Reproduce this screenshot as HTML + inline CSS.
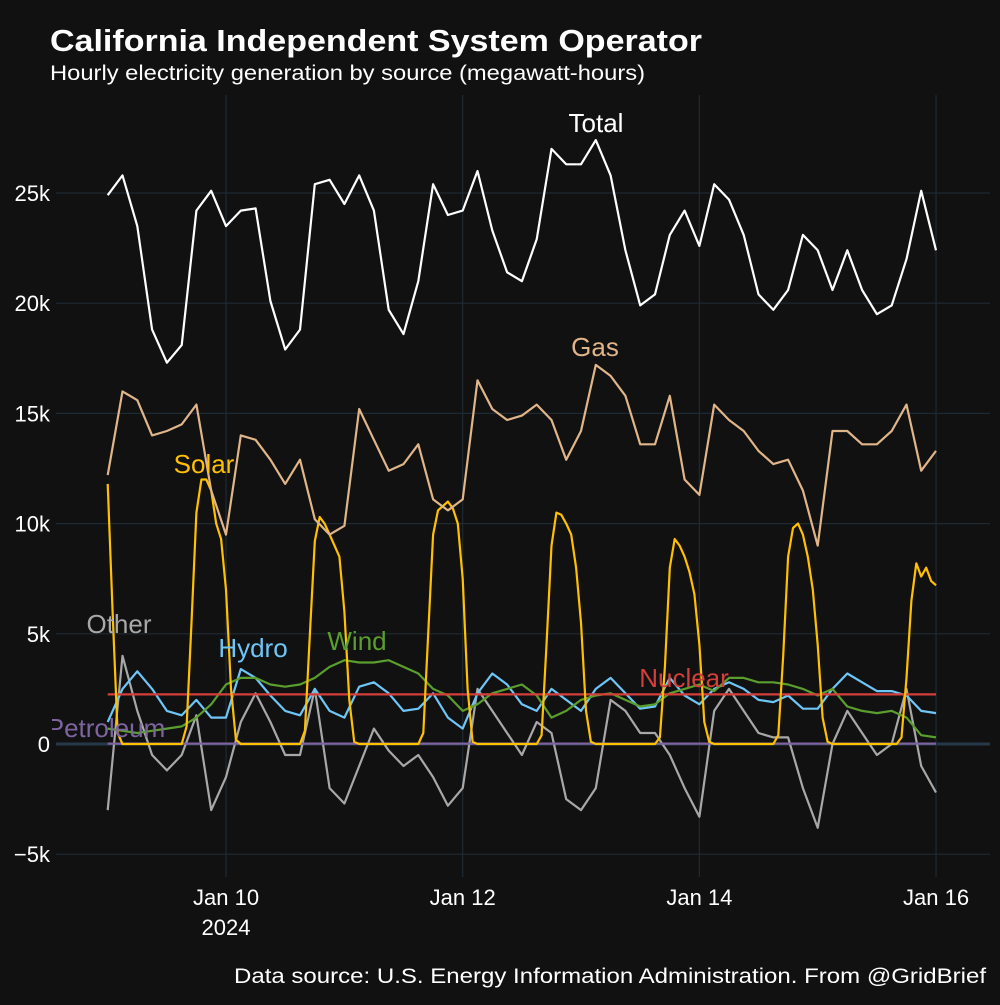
<!DOCTYPE html>
<html><head><meta charset="utf-8">
<style>
html,body{margin:0;padding:0;background:#111111;}
body{width:1000px;height:1000px;overflow:hidden;font-family:"Liberation Sans",sans-serif;}
svg text{font-family:"Liberation Sans",sans-serif;}
</style></head>
<body>
<svg id="chart" width="1000" height="1000" viewBox="0 0 1000 1000" xmlns="http://www.w3.org/2000/svg">
<rect width="1000" height="1000" fill="#111111"/>
<text x="50" y="51" fill="#ffffff" font-size="31" font-weight="bold" textLength="652" lengthAdjust="spacingAndGlyphs">California Independent System Operator</text>
<text x="50" y="80" fill="#ffffff" font-size="21" textLength="595" lengthAdjust="spacingAndGlyphs">Hourly electricity generation by source (megawatt-hours)</text>
<text x="986" y="983" fill="#ffffff" font-size="21" text-anchor="end" textLength="752" lengthAdjust="spacingAndGlyphs">Data source: U.S. Energy Information Administration. From @GridBrief</text>
<defs><clipPath id="plotclip"><rect x="52" y="95" width="940" height="785"/></clipPath></defs>
<g id="grid"></g>
<g id="axes"></g>
<g id="series" clip-path="url(#plotclip)"></g>
</svg>
<script>
// 3-hourly samples from Jan 9 00:00 to Jan 16 00:00
const hoursStep = 3;
const totalMWh = [24.9,25.8,23.5,18.8,17.3,18.1,24.2,25.1,23.5,24.2,24.3,20.1,17.9,18.8,25.4,25.6,24.5,25.8,24.2,19.7,18.6,21.0,25.4,24.0,24.2,26.0,23.3,21.4,21.0,22.9,27.0,26.3,26.3,27.4,25.8,22.4,19.9,20.4,23.1,24.2,22.6,25.4,24.7,23.1,20.4,19.7,20.6,23.1,22.4,20.6,22.4,20.6,19.5,19.9,22.0,25.1,22.4];
const gasMWh = [12.2,16.0,15.6,14.0,14.2,14.5,15.4,11.5,9.5,14.0,13.8,12.9,11.8,12.9,10.2,9.5,9.9,15.2,13.8,12.4,12.7,13.6,11.1,10.6,11.1,16.5,15.2,14.7,14.9,15.4,14.7,12.9,14.2,17.2,16.7,15.8,13.6,13.6,15.8,12.0,11.3,15.4,14.7,14.2,13.3,12.7,12.9,11.5,9.0,14.2,14.2,13.6,13.6,14.2,15.4,12.4,13.3];
// hourly solar samples
const solarStep = 1;
const solarMWh = [11.8,6.0,0.5,
0,0,0,0,0,0,0,0,0,0,0,0,0,
0.8,5.5,10.5,12.0,12.0,11.5,10.0,9.3,7.0,2.5,0.2,
0,0,0,0,0,0,0,0,0,0,0,0,0,
0.6,5.0,9.2,10.3,10.0,9.5,9.0,8.5,6.0,2.0,0.1,
0,0,0,0,0,0,0,0,0,0,0,0,0,
0.5,5.0,9.5,10.6,10.8,11.0,10.7,10.0,7.5,2.5,0.1,
0,0,0,0,0,0,0,0,0,0,0,0,0,
0.4,4.5,9.0,10.5,10.4,10.0,9.5,8.0,5.5,1.5,0.1,
0,0,0,0,0,0,0,0,0,0,0,0,0,
0.3,3.5,8.0,9.3,9.0,8.5,7.8,6.8,4.5,1.0,0.1,
0,0,0,0,0,0,0,0,0,0,0,0,0,
0.4,4.0,8.5,9.8,10.0,9.5,8.5,7.0,4.5,1.2,0.1,
0,0,0,0,0,0,0,0,0,0,0,0,0,
0,0.3,3.0,6.5,8.2,7.6,8.0,7.4,7.2];
const hydroMWh = [1.0,2.5,3.3,2.5,1.5,1.3,2.0,1.2,1.2,3.4,3.0,2.2,1.5,1.3,2.5,1.5,1.2,2.6,2.8,2.3,1.5,1.6,2.3,1.2,0.7,2.3,3.2,2.7,1.8,1.5,2.5,2.0,1.5,2.5,3.0,2.3,1.6,1.7,3.0,2.2,1.8,2.5,2.8,2.5,2.0,1.9,2.2,1.6,1.6,2.5,3.2,2.8,2.4,2.4,2.2,1.5,1.4];
const windMWh = [0.7,0.6,0.5,0.6,0.7,0.8,1.2,1.8,2.7,3.0,3.0,2.7,2.6,2.7,3.0,3.5,3.8,3.7,3.7,3.8,3.5,3.2,2.5,2.2,1.5,1.8,2.3,2.5,2.7,2.2,1.2,1.5,2.0,2.2,2.3,2.0,1.7,1.8,2.3,2.5,2.7,2.4,3.0,3.0,2.8,2.8,2.7,2.5,2.2,2.5,1.7,1.5,1.4,1.5,1.2,0.4,0.3];
const otherMWh = [-3.0,4.0,1.5,-0.5,-1.2,-0.5,1.3,-3.0,-1.5,1.0,2.3,1.0,-0.5,-0.5,2.5,-2.0,-2.7,-1.0,0.7,-0.3,-1.0,-0.5,-1.5,-2.8,-2.0,2.5,1.5,0.5,-0.5,1.0,0.5,-2.5,-3.0,-2.0,2.0,1.5,0.5,0.5,-0.5,-2.0,-3.3,1.5,2.5,1.5,0.5,0.3,0.3,-2.0,-3.8,0.0,1.5,0.5,-0.5,0.0,2.5,-1.0,-2.2];
const nuclearMWh = [2.25,2.25];
const petroleumMWh = [0.02,0.02];
const yTicks = [-5,0,5,10,15,20,25];
const yTickLabels = ["\u22125k","0","5k","10k","15k","20k","25k"];
const xTickHours = [24,72,120,168];
const xTickLabels = ["Jan 10","Jan 12","Jan 14","Jan 16"];

const NS = "http://www.w3.org/2000/svg";
function yScale(v){ return 744 - v * 22.04; }
function xScale(h){ return 107.7 + h * 710 / 144; }
function mk(tag, attrs, parent){ const e=document.createElementNS(NS,tag); for(const k in attrs) e.setAttribute(k,attrs[k]); parent.appendChild(e); return e; }
const grid=document.getElementById('grid'), axes=document.getElementById('axes'), series=document.getElementById('series');

yTicks.forEach((t,i)=>{
  const y=yScale(t);
  const gl=mk('line',{x1:56,x2:990,y1:y,y2:y,stroke:t===0?'#26394a':'#1e2a33','stroke-width':t===0?3:1.2},grid);
  
  
  const tx=mk('text',{x:50,y:y+8,fill:'#ffffff','font-size':22,'text-anchor':'end'},axes);
  tx.textContent=yTickLabels[i];
  
  
});
xTickHours.forEach((h,i)=>{
  const x=xScale(h);
  const gl=mk('line',{x1:x,x2:x,y1:95,y2:877,stroke:'#1e2a33','stroke-width':1.2},grid);
  
  
  const tx=mk('text',{x:x,y:905,fill:'#ffffff','font-size':22,'text-anchor':'middle'},axes);
  tx.textContent=xTickLabels[i];
  
  
});
const yr=mk('text',{x:xScale(24),y:935,fill:'#ffffff','font-size':22,'text-anchor':'middle'},axes);
yr.textContent='2024';



function drawLine(vals,color,name,step){
  const pts=vals.map((v,i)=>xScale(i*step).toFixed(1)+','+yScale(v).toFixed(1)).join(' ');
  const p=mk('polyline',{points:pts,fill:'none',stroke:color,'stroke-width':2.2,'stroke-linejoin':'round'},series);
  
  
}
drawLine(otherMWh,'#a8a8a8','other-line',hoursStep);
drawLine(hydroMWh,'#6ec6f7','hydro-line',hoursStep);
drawLine(windMWh,'#5a9e2e','wind-line',hoursStep);
drawLine(nuclearMWh,'#d43f3a','nuclear-line',168);
drawLine(petroleumMWh,'#7d64a0','petroleum-line',168);
drawLine(solarMWh,'#ffc000','solar-line',solarStep);
drawLine(gasMWh,'#e0b589','gas-line',hoursStep);
drawLine(totalMWh,'#ffffff','total-line',hoursStep);

function label(txt,x,y,color,name){
  const t=mk('text',{x:x,y:y,fill:color,'font-size':26,'text-anchor':'middle'},series);
  t.textContent=txt;
  
  
}
label('Total',596,132,'#ffffff','total-label');
label('Gas',595,356,'#e0b589','gas-label');
label('Solar',204,473,'#ffc000','solar-label');
label('Other',119,633,'#a8a8a8','other-label');
label('Hydro',253,657,'#6ec6f7','hydro-label');
label('Wind',357,650,'#5a9e2e','wind-label');
label('Nuclear',684,687,'#d43f3a','nuclear-label');
label('Petroleum',106,737,'#7d64a0','petroleum-label');
</script>
</body></html>
